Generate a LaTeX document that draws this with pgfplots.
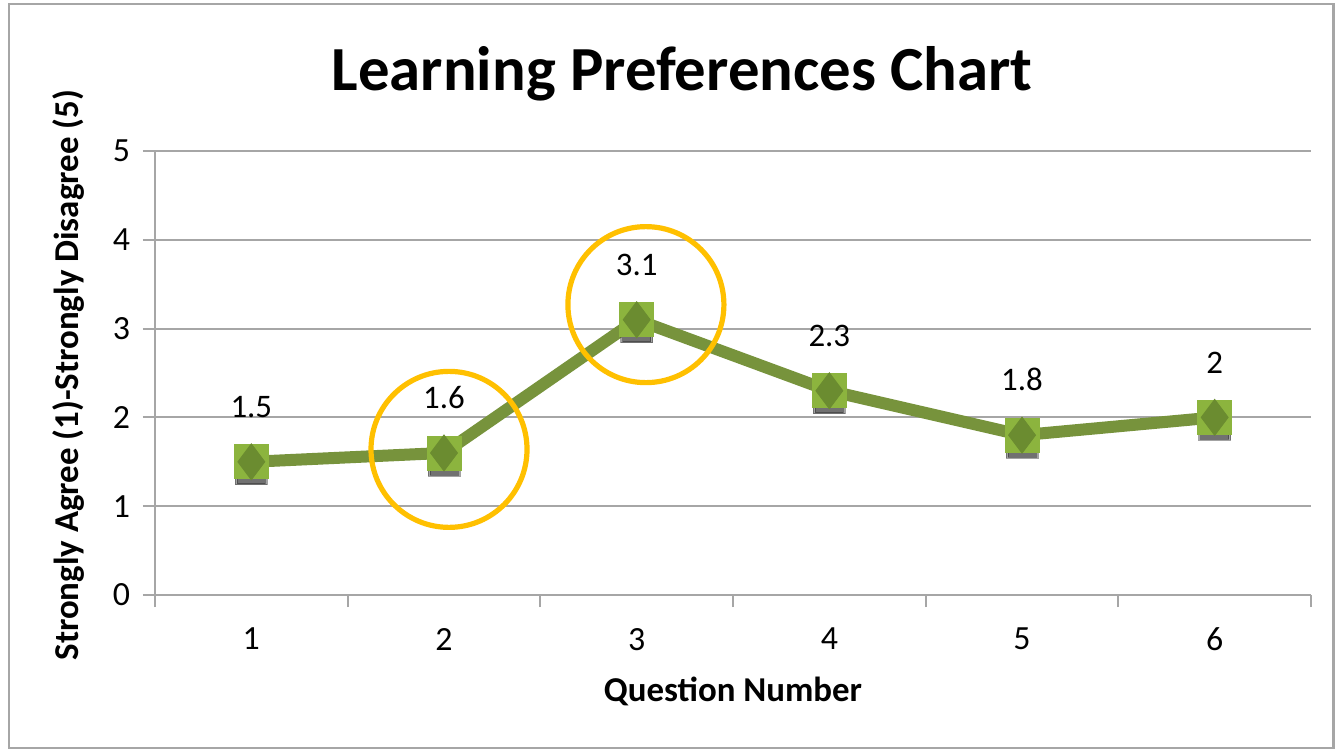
\documentclass[border=0pt]{standalone}
\usepackage{pgfplots}
\pgfplotsset{compat=1.18}
\usepackage{fontspec}
\setmainfont{Carlito}

\definecolor{linegreen}{HTML}{77933C}
\definecolor{sqgreen}{HTML}{8CB43E}
\definecolor{diagreen}{HTML}{6B8C30}
\definecolor{circleyellow}{HTML}{FFC000}
\definecolor{gridgray}{HTML}{A6A6A6}

\begin{document}
\begin{tikzpicture}[x=1bp,y=1bp]
% page box and frame (1 px = 0.5 bp)
\useasboundingbox (-77.5,-79.5) rectangle (590,297.5);
\fill[white] (-77.5,-79.5) rectangle (590,297.5);
\draw[gridgray, line width=1.2bp] (-73,-76.5) rectangle (589.3,295.5);

\begin{axis}[
    at={(0,0)}, anchor=south west,
    scale only axis,
    width=578bp, height=222bp,
    xmin=0.5, xmax=6.5,
    ymin=0, ymax=5,
    xtick={1,2,3,4,5,6},
    minor xtick={0.5,1.5,2.5,3.5,4.5,5.5,6.5},
    ytick={0,1,2,3,4,5},
    major x tick style={draw=none},
    minor tick length=6bp,
    major tick length=6bp,
    tick align=outside,
    tick style={gridgray, line width=1bp},
    ymajorgrids,
    major grid style={gridgray, line width=1bp},
    axis x line*=bottom,
    axis y line*=left,
    axis line style={gridgray, line width=1bp, -},
    clip=false,
    /pgf/number format/assume math mode=true,
    tick label style={font=\fontsize{17}{20}\selectfont},
    xticklabel style={yshift=-7bp},
    yticklabel style={xshift=-3bp},
    title={Learning Preferences Chart},
    title style={font=\bfseries\fontsize{31.5}{36}\selectfont, at={(axis description cs:0.456,1.146)}, anchor=center},
    xlabel={Question Number},
    xlabel style={font=\bfseries\fontsize{17.5}{20}\selectfont, at={(axis description cs:0.5,-0.218)}, anchor=center},
    ylabel={Strongly Agree (1)-Strongly Disagree (5)},
    ylabel style={font=\bfseries\fontsize{17.5}{20}\selectfont, at={(axis description cs:-0.075,0.495)}, anchor=center},
]

% marker shadows
\addplot[only marks, mark=square*, mark size=8bp, color=black!80,
    mark options={opacity=0.45, yshift=-3.5bp}]
coordinates {(1,1.5) (2,1.6) (3,3.1) (4,2.3) (5,1.8) (6,2)};
\addplot[only marks, mark=square*, mark size=7bp, color=black,
    mark options={opacity=0.3, yshift=-4bp}]
coordinates {(1,1.5) (2,1.6) (3,3.1) (4,2.3) (5,1.8) (6,2)};

% square markers
\addplot[only marks, mark=square*, mark size=8.5bp, color=sqgreen]
coordinates {(1,1.5) (2,1.6) (3,3.1) (4,2.3) (5,1.8) (6,2)};

% line with data labels
\addplot[linegreen, line width=6bp, line join=round, mark=none,
    nodes near coords,
    point meta=explicit symbolic,
    every node near coord/.append style={black, font=\fontsize{16.5}{19}\selectfont, anchor=south, inner sep=0pt, yshift=19bp}]
coordinates {
  (1,1.5) [1.5]
  (2,1.6) [1.6]
  (3,3.1) [3.1]
  (4,2.3) [2.3]
  (5,1.8) [1.8]
  (6,2)   [2]
};

% diamond markers
\addplot[only marks, mark=diamond*, mark size=9bp, color=diagreen]
coordinates {(1,1.5) (2,1.6) (3,3.1) (4,2.3) (5,1.8) (6,2)};

% highlight circles
\draw[circleyellow, line width=2.6bp] (axis cs:2.026,1.64) circle[radius=39bp];
\draw[circleyellow, line width=2.6bp] (axis cs:3.048,3.27) circle[radius=39bp];
\end{axis}
\end{tikzpicture}
\end{document}
